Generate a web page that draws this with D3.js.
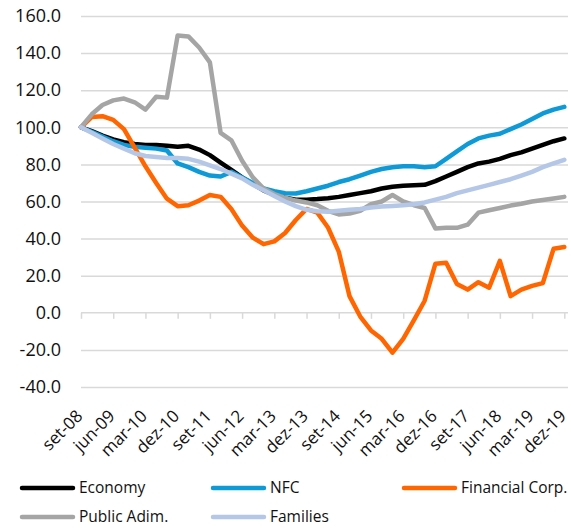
<!DOCTYPE html>
<html>
<head>
<meta charset="utf-8">
<script src="https://cdn.jsdelivr.net/npm/d3@7"></script>
<style>
  body { margin: 0; background: #fff; }
  text { font-family: "Open Sans", sans-serif; fill: #111; }
</style>
</head>
<body>
<svg id="chart"></svg>
<script>
// quarters, set-08 .. dez-19
const quarters = [
  "set-08","dez-08",
  "mar-09","jun-09","set-09","dez-09",
  "mar-10","jun-10","set-10","dez-10",
  "mar-11","jun-11","set-11","dez-11",
  "mar-12","jun-12","set-12","dez-12",
  "mar-13","jun-13","set-13","dez-13",
  "mar-14","jun-14","set-14","dez-14",
  "mar-15","jun-15","set-15","dez-15",
  "mar-16","jun-16","set-16","dez-16",
  "mar-17","jun-17","set-17","dez-17",
  "mar-18","jun-18","set-18","dez-18",
  "mar-19","jun-19","set-19","dez-19"
];

// labelled quarters on the x axis
const xTickLabels = ["set-08","jun-09","mar-10","dez-10","set-11","jun-12","mar-13","dez-13",
  "set-14","jun-15","mar-16","dez-16","set-17","jun-18","mar-19","dez-19"];

const yTicks = [-40, -20, 0, 20, 40, 60, 80, 100, 120, 140, 160];

// series (index, base 100 = set-08)
const economy = [100, 98, 95.5, 93.5, 92, 91, 90.5, 90.5, 90, 89.5, 90, 88, 85, 81, 77, 73,
  69.5, 66, 63.5, 62, 61, 61, 61.3, 61.8, 62.5, 63.5, 64.5, 65.5, 67, 68, 68.5, 68.8,
  69, 71, 73.5, 76, 78.5, 80.5, 81.5, 83, 85, 86.5, 88.5, 90.5, 92.5, 94];

const nfc = [100, 97.5, 95, 92.5, 90.5, 89.5, 89, 88.5, 87.5, 80.5, 78.5, 76, 74, 73.5, 76, 73,
  70, 67, 65.5, 64.5, 64.3, 65.5, 67, 68.5, 70.5, 72, 74, 76, 77.5, 78.5, 79, 79,
  78.5, 79, 83, 87, 91, 94, 95.5, 96.5, 99, 101.5, 104.5, 107.5, 109.5, 111];

const financialCorp = [100, 105.5, 106, 104, 99, 89, 79, 70, 61.5, 57.5, 58, 60.5, 63.5, 62.5, 56, 47,
  40.5, 37, 38.5, 43, 50, 56, 54, 46, 33, 9, -2, -9.5, -14, -21.5, -14, -4,
  6.5, 26.5, 27, 15.5, 12.5, 16.5, 13.5, 28, 9, 12.5, 14.5, 16, 34.5, 35.5];

const publicAdim = [100, 107, 112, 114.5, 115.5, 113.5, 109.5, 116.5, 116, 149.5, 149, 143, 135, 97, 93, 82,
  73, 67, 64, 62, 60.5, 59.5, 58, 55, 53, 53.5, 55, 58.5, 60, 63.5, 60, 58,
  56.5, 45.5, 45.8, 45.8, 47.5, 54, 55.3, 56.5, 57.8, 58.8, 60, 60.8, 61.6, 62.5];

const families = [100, 97, 94, 91, 88.5, 86, 84.5, 84, 83.5, 83.5, 83, 81.5, 79.5, 77.5, 75, 72.5,
  69, 66, 63, 60, 57.5, 55.5, 54.8, 54.5, 55, 55.5, 56, 56.8, 57.3, 57.6, 58, 58.5,
  59.5, 61, 62.5, 64.5, 66, 67.5, 69, 70.5, 72, 74, 76, 78.5, 80.5, 82.5];

const seriesNames = ["Economy", "NFC", "Financial Corp.", "Public Adim.", "Families"];
const seriesColors = ["#000000", "#0E9AD7", "#FF6600", "#A5A5A5", "#B4C7E7"];
const seriesValues = [economy, nfc, financialCorp, publicAdim, families];

const W = 571, H = 528;
const plotLeft = 81, plotRight = 564.3, gridRight = 568, plotTop = 16, plotBottom = 387;

const svg = d3.select("#chart").attr("width", W).attr("height", H);

const x = d3.scalePoint().domain(quarters).range([plotLeft, plotRight]);
const y = d3.scaleLinear().domain([-40, 160]).range([plotBottom, plotTop]);

//gridlines
svg.append("g")
  .attr("transform", `translate(${plotLeft},0)`)
  .call(d3.axisLeft(y).tickValues(yTicks.filter(d => d !== 0)).tickSize(-(gridRight - plotLeft)).tickFormat(""))
  .call(g => g.select(".domain").remove())
  .call(g => g.selectAll("line").attr("stroke", "#D9D9D9").attr("stroke-width", 1.5));

//y labels
svg.append("g")
  .attr("transform", `translate(${plotLeft},0)`)
  .call(d3.axisLeft(y).tickValues(yTicks).tickSize(0).tickPadding(20).tickFormat(d => d.toFixed(1)))
  .call(g => g.select(".domain").remove())
  .call(g => g.selectAll("text").style("font-size", "18px").attr("fill", "#111"));

//zero axis with tick marks
svg.append("g")
  .attr("transform", `translate(0,${y(0)})`)
  .call(d3.axisBottom(x).tickValues(xTickLabels).tickSize(6).tickFormat("").tickSizeOuter(0))
  .call(g => g.select(".domain").attr("d", `M${plotLeft},0H${gridRight}`).attr("stroke", "#D9D9D9").attr("stroke-width", 1.5))
  .call(g => g.selectAll(".tick line").attr("stroke", "#D9D9D9").attr("stroke-width", 1.5));

//x labels (low position)
svg.append("g")
  .selectAll("text")
  .data(xTickLabels)
  .join("text")
  .attr("transform", d => `translate(${x(d) - 1.5},413) rotate(-45)`)
  .attr("text-anchor", "end")
  .attr("dy", "0.35em")
  .style("font-size", "17px")
  .text(d => d);

//lines
const line = d3.line().x((d, i) => x(quarters[i])).y(d => y(d));

svg.append("g")
  .selectAll("path")
  .data(seriesValues)
  .join("path")
  .attr("d", line)
  .attr("fill", "none")
  .attr("stroke", (d, i) => seriesColors[i])
  .attr("stroke-width", 4.5)
  .attr("stroke-linejoin", "round")
  .attr("stroke-linecap", "round");

//legend
const legendPos = [[20, 488], [211, 488], [402, 488], [20, 517], [211, 517]];
const legend = svg.append("g")
  .selectAll("g")
  .data(seriesNames)
  .join("g")
  .attr("transform", (d, i) => `translate(${legendPos[i][0]},${legendPos[i][1]})`);

legend.append("line")
  .attr("x1", 2).attr("x2", 53)
  .attr("stroke", (d, i) => seriesColors[i])
  .attr("stroke-width", 4.5)
  .attr("stroke-linecap", "round");

legend.append("text")
  .attr("x", 59)
  .attr("dy", "0.35em")
  .style("font-size", "15.5px")
  .text(d => d);
</script>
</body>
</html>
